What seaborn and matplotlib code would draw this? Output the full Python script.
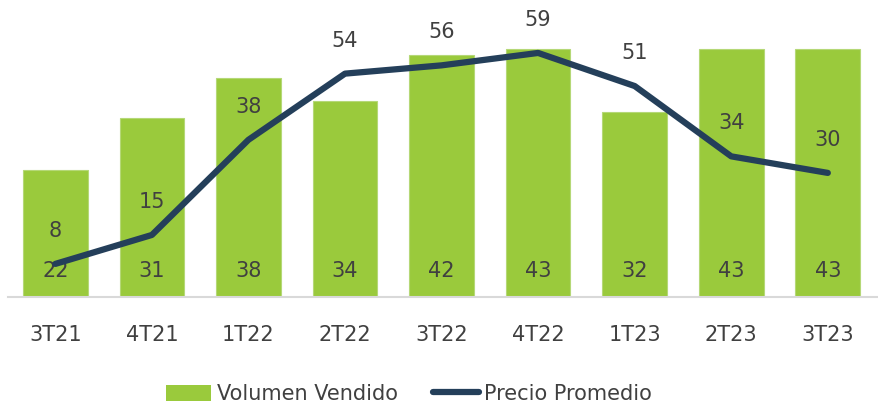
import matplotlib
matplotlib.use("Agg")
import matplotlib.pyplot as plt
import seaborn as sns
from matplotlib.patches import Patch
from matplotlib.lines import Line2D

# Quarterly volume sold (bars) and average price (line)
periodos = ["3T21", "4T21", "1T22", "2T22", "3T22", "4T22", "1T23", "2T23", "3T23"]
volumen_vendido = [22, 31, 38, 34, 42, 43, 32, 43, 43]
precio_promedio = [8, 15, 38, 54, 56, 59, 51, 34, 30]

verde = "#9aca3c"
azul = "#243f5a"
texto = "#404040"

sns.set_theme(style="white")
plt.rcParams["font.family"] = ["DejaVu Sans"]

fig = plt.figure(figsize=(8.79, 4.05), dpi=100)
ax = fig.add_axes([8 / 879, 108 / 405, 1 - 8 / 879, 297 / 405])

sns.barplot(x=periodos, y=volumen_vendido, ax=ax, color=verde, saturation=1,
            width=0.67, edgecolor="#b5d877", linewidth=0.8)
ax.set_xlim(-0.49, 8.53)
ax.set_ylim(0, 51.5)

ax2 = ax.twinx()
sns.lineplot(x=list(range(len(periodos))), y=precio_promedio, ax=ax2, color=azul,
             linewidth=4.5, solid_capstyle="round")
ax2.set_ylim(0, 71.8)

# data labels: volume near the bar base, price above each point
for i, v in enumerate(volumen_vendido):
    ax.text(i, 4.5, f"{v}", ha="center", va="center", fontsize=15, color=texto)
for i, p in enumerate(precio_promedio):
    ax2.text(i, p + 8.0, f"{p}", ha="center", va="center", fontsize=15, color=texto)

for a in (ax, ax2):
    for side in ("top", "right", "left"):
        a.spines[side].set_visible(False)
    a.set_yticks([])
    a.set_ylabel("")
ax.spines["bottom"].set_color("#d9d9d9")
ax.spines["bottom"].set_linewidth(1.5)
ax2.spines["bottom"].set_visible(False)
ax.tick_params(axis="x", length=0, pad=20, labelsize=15, labelcolor=texto)
ax.set_xlabel("")

handles = [Patch(facecolor=verde, edgecolor="none"),
           Line2D([0], [0], color=azul, linewidth=4.5, solid_capstyle="round")]
fig.legend(handles, ["Volumen Vendido", "Precio Promedio"], loc="center",
           bbox_to_anchor=(0.465, 0.027), ncol=2, frameon=False, fontsize=15,
           handlelength=2.2, handleheight=0.8, handletextpad=0.25,
           columnspacing=1.7, labelcolor=texto)

fig.savefig("out.png", dpi=100)
